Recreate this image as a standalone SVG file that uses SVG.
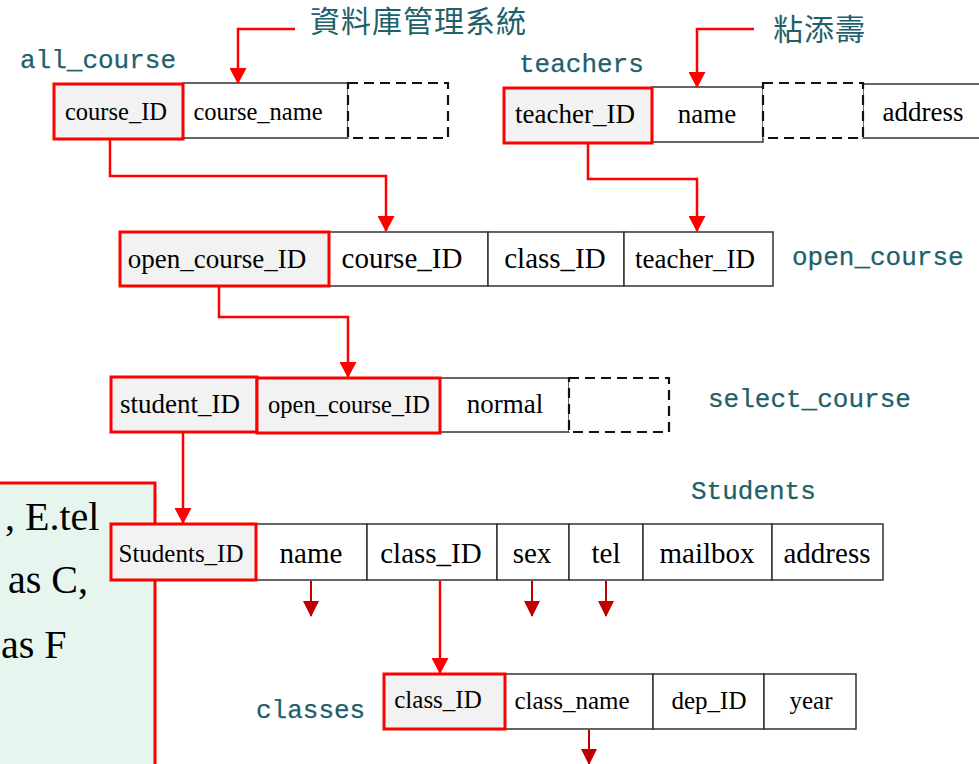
<svg xmlns="http://www.w3.org/2000/svg" width="979" height="764" viewBox="0 0 979 764">
<style>
.bg{fill:#ffffff}
.key{fill:#f2f2f2;stroke:#ff0000;stroke-width:3}
.cell{fill:#ffffff;stroke:#333333;stroke-width:1.5}
.dash{fill:#ffffff;stroke:#111111;stroke-width:2.2;stroke-dasharray:10 6}
.t{font-family:"Liberation Serif","Times New Roman",serif;fill:#000000;text-anchor:middle}
.lbl{font-family:"Liberation Mono","Courier New",monospace;font-size:26px;fill:#215f6b;stroke:#215f6b;stroke-width:0.25}
.cjk{font-family:"Liberation Serif","Noto Sans CJK TC",serif;font-size:30px;fill:#215f6b;letter-spacing:1px}
.conn{fill:none;stroke:#ff0000;stroke-width:2.5;marker-end:url(#ar)}
.conn2{fill:none;stroke:#c00000;stroke-width:2;marker-end:url(#ar2)}
.note{fill:#e7f5ef;stroke:#ff0000;stroke-width:3}
.nt{font-family:"Liberation Serif","Times New Roman",serif;font-size:40px;fill:#000000}
</style>
<defs>
<marker id="ar" markerUnits="userSpaceOnUse" markerWidth="16" markerHeight="17" viewBox="0 0 16 17" refX="15" refY="8.5" orient="auto">
<path d="M0,0 L16,8.5 L0,17 z" fill="#ff0000"/>
</marker>
<marker id="ar2" markerUnits="userSpaceOnUse" markerWidth="16" markerHeight="16" viewBox="0 0 16 16" refX="15" refY="8" orient="auto">
<path d="M0,0 L16,8 L0,16 z" fill="#c00000"/>
</marker>
</defs>
<rect class="bg" x="0" y="0" width="979" height="764"/>

<g id="note">
<rect class="note" x="-10" y="483" width="165" height="300"/>
<text class="nt" x="5" y="530">, E.tel</text>
<text class="nt" x="8" y="593">as C,</text>
<text class="nt" x="1" y="658">as F</text>
</g>

<g id="label-db">
<text class="cjk" x="310" y="32">資料庫管理系統</text>
</g>
<g id="label-teacher">
<text class="cjk" x="773" y="40">粘添壽</text>
</g>

<g id="all_course">
<text class="lbl" x="20" y="68">all_course</text>
<rect class="cell" x="183" y="83" width="165" height="55"/>
<rect class="dash" x="348" y="83" width="100" height="55"/>
<rect class="key" x="54" y="84" width="129" height="55"/>
<text class="t" x="116" y="120" font-size="24.5">course_ID</text>
<text class="t" x="258" y="120" font-size="24.5">course_name</text>
</g>

<g id="teachers">
<text class="lbl" x="519" y="72">teachers</text>
<rect class="cell" x="652" y="87" width="111" height="55"/>
<rect class="cell" x="863" y="84" width="130" height="54"/>
<rect class="dash" x="763" y="83" width="100" height="55"/>
<rect class="key" x="504" y="88" width="148" height="55"/>
<text class="t" x="575" y="123" font-size="27">teacher_ID</text>
<text class="t" x="707" y="123" font-size="27">name</text>
<text class="t" x="923" y="121" font-size="27">address</text>
</g>

<g id="open_course">
<text class="lbl" x="792" y="265">open_course</text>
<rect class="cell" x="329" y="232" width="159" height="54"/>
<rect class="cell" x="488" y="232" width="136" height="54"/>
<rect class="cell" x="624" y="232" width="149" height="54"/>
<rect class="key" x="120" y="232" width="209" height="54"/>
<text class="t" x="217" y="268" font-size="27">open_course_ID</text>
<text class="t" x="402" y="268" font-size="29">course_ID</text>
<text class="t" x="555" y="268" font-size="29">class_ID</text>
<text class="t" x="695" y="268" font-size="27">teacher_ID</text>
</g>

<g id="select_course">
<text class="lbl" x="708" y="407">select_course</text>
<rect class="cell" x="440" y="378" width="129" height="54"/>
<rect class="dash" x="569" y="378" width="100" height="54"/>
<rect class="key" x="111" y="377" width="146" height="55"/>
<rect class="key" x="257" y="378" width="183" height="55"/>
<text class="t" x="180" y="413" font-size="27">student_ID</text>
<text class="t" x="349" y="413" font-size="24.5">open_course_ID</text>
<text class="t" x="505" y="413" font-size="27">normal</text>
</g>

<g id="Students">
<text class="lbl" x="691" y="499">Students</text>
<rect class="cell" x="256" y="524" width="111" height="56"/>
<rect class="cell" x="367" y="524" width="130" height="56"/>
<rect class="cell" x="497" y="524" width="72" height="56"/>
<rect class="cell" x="569" y="524" width="74" height="56"/>
<rect class="cell" x="643" y="524" width="129" height="56"/>
<rect class="cell" x="772" y="524" width="111" height="56"/>
<rect class="key" x="111" y="524" width="145" height="56"/>
<text class="t" x="181" y="562" font-size="25">Students_ID</text>
<text class="t" x="311" y="563" font-size="29">name</text>
<text class="t" x="431" y="563" font-size="29">class_ID</text>
<text class="t" x="532" y="563" font-size="29">sex</text>
<text class="t" x="606" y="563" font-size="29">tel</text>
<text class="t" x="707" y="563" font-size="29">mailbox</text>
<text class="t" x="827" y="563" font-size="29">address</text>
</g>

<g id="classes">
<text class="lbl" x="256" y="718">classes</text>
<rect class="cell" x="505" y="674" width="148" height="55"/>
<rect class="cell" x="653" y="674" width="111" height="55"/>
<rect class="cell" x="764" y="674" width="92" height="55"/>
<rect class="key" x="384" y="674" width="121" height="55"/>
<text class="t" x="438" y="708" font-size="25">class_ID</text>
<text class="t" x="572" y="709" font-size="25">class_name</text>
<text class="t" x="709" y="709" font-size="25">dep_ID</text>
<text class="t" x="811" y="709" font-size="25">year</text>
</g>

<g id="connectors">
<polyline class="conn" points="295,29 238,29 238,83"/>
<polyline class="conn" points="754,29 697,29 697,87"/>
<polyline class="conn" points="110,140 110,176 386,176 386,231"/>
<polyline class="conn" points="588,144 588,179 697,179 697,231"/>
<polyline class="conn" points="219,287 219,317 348,317 348,377"/>
<polyline class="conn" points="183,433 183,523"/>
<polyline class="conn" points="440,581 440,673"/>
<polyline class="conn2" points="311,581 311,616"/>
<polyline class="conn2" points="532,581 532,616"/>
<polyline class="conn2" points="606,581 606,616"/>
<polyline class="conn2" points="589,730 589,764"/>
</g>
</svg>
